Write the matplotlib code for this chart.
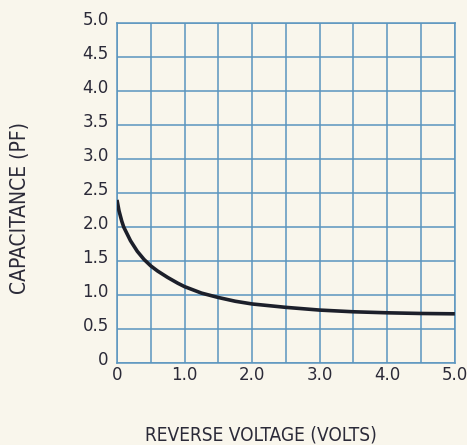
import numpy as np
import matplotlib.pyplot as plt
import matplotlib.transforms as mtransforms

# curve
voltage = [0, 0.03, 0.07, 0.1, 0.2, 0.3, 0.4, 0.5, 0.6, 0.75, 0.9, 1.0, 1.25, 1.5, 1.75,
           2.0, 2.5, 3.0, 3.5, 4.0, 4.5, 5.0]
capacitance = [2.40, 2.24, 2.09, 2.00, 1.80, 1.645, 1.525, 1.43, 1.355, 1.26, 1.175, 1.125, 1.03, 0.965, 0.91,
               0.87, 0.82, 0.78, 0.755, 0.74, 0.73, 0.725]

x_ticks = [0, 1.0, 2.0, 3.0, 4.0, 5.0]
x_labels = ['0', '1.0', '2.0', '3.0', '4.0', '5.0']
y_ticks = [0, 0.5, 1.0, 1.5, 2.0, 2.5, 3.0, 3.5, 4.0, 4.5, 5.0]
y_labels = ['0', '0.5', '1.0', '1.5', '2.0', '2.5', '3.0', '3.5', '4.0', '4.5', '5.0']

bg = '#f9f6ec'
grid_col = '#5b95bf'
text_col = '#2b2a38'

fig = plt.figure(figsize=(4.67, 4.45), dpi=100, facecolor=bg)
ax = fig.add_axes([0.2505, 0.184, 0.7235, 0.764])
ax.set_facecolor(bg)

ax.plot(voltage, capacitance, color='#1c1f2a', lw=2.6, solid_capstyle='butt', zorder=3)

ax.set_xlim(0, 5)
ax.set_ylim(0, 5)
ax.set_xticks(x_ticks)
ax.set_xticklabels(x_labels)
ax.set_yticks(y_ticks)
ax.set_yticklabels(y_labels)
ax.set_xticks(np.arange(0.5, 5, 1.0), minor=True)
ax.grid(which='both', color=grid_col, lw=1.1)
ax.tick_params(which='both', length=0, labelsize=12, labelcolor=text_col)
ax.tick_params(axis='x', pad=2)
ax.tick_params(axis='y', pad=6)
for s in ax.spines.values():
    s.set_color(grid_col)
    s.set_linewidth(1.1)

# y labels sit a little above their lines
shift = mtransforms.ScaledTranslation(0, 5 / 100, fig.dpi_scale_trans)
for lab in ax.get_yticklabels():
    lab.set_transform(lab.get_transform() + shift)

fig.text(0.559, 0.0225, 'REVERSE VOLTAGE (VOLTS)', ha='center', va='center',
         fontsize=13.7, color=text_col, family='DejaVu Sans', stretch='condensed')
fig.text(0.043, 0.533, 'CAPACITANCE (PF)', ha='center', va='center', rotation=90,
         fontsize=15, color=text_col, family='DejaVu Sans', stretch='condensed')

fig.savefig('out.png', dpi=100, facecolor=bg)
